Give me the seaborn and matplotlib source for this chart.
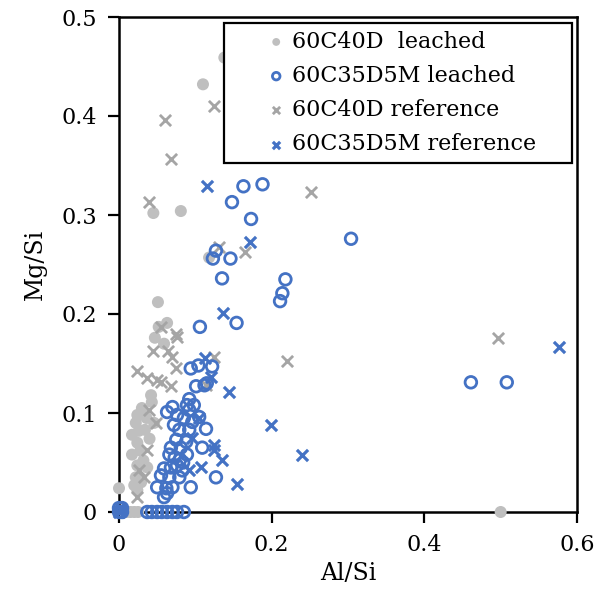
import matplotlib
matplotlib.use("Agg")
import matplotlib.pyplot as plt
import seaborn as sns

# 60C40D leached (filled grey dots)
l40_al = [0.110, 0.138, 0.045, 0.081, 0.118, 0.051, 0.063, 0.052, 0.047, 0.059,
          0.042, 0.043, 0.024, 0.022, 0.046, 0.017, 0.024, 0.017, 0.024, 0.037,
          0.022, 0.020, 0.024, 0.029, 0.000, 0.010, 0.015, 0.020, 0.025, 0.500,
          0.030, 0.034, 0.028, 0.040, 0.032, 0.026, 0.036]
l40_mg = [0.432, 0.459, 0.302, 0.304, 0.257, 0.212, 0.191, 0.187, 0.176, 0.170,
          0.118, 0.111, 0.098, 0.090, 0.090, 0.078, 0.070, 0.058, 0.047, 0.045,
          0.035, 0.027, 0.022, 0.030, 0.024, 0.000, 0.000, 0.000, 0.000, 0.000,
          0.105, 0.083, 0.062, 0.074, 0.052, 0.082, 0.095]

# 60C35D5M leached (open blue circles)
l35_al = [0.163, 0.188, 0.148, 0.173, 0.127, 0.123, 0.146, 0.135, 0.218, 0.304,
          0.214, 0.211, 0.154, 0.106, 0.461, 0.508, 0.094, 0.104, 0.122, 0.101,
          0.112, 0.115, 0.070, 0.063, 0.092, 0.089, 0.098, 0.092, 0.085, 0.096,
          0.105, 0.114, 0.079, 0.092, 0.075, 0.088, 0.068, 0.081, 0.109, 0.089,
          0.059, 0.068, 0.076, 0.083, 0.055, 0.066, 0.079, 0.094, 0.050, 0.062,
          0.070, 0.059, 0.063, 0.127, 0.066, 0.072, 0.076, 0.080, 0.084, 0.073,
          0.037, 0.043, 0.050, 0.056, 0.063, 0.070, 0.076, 0.085,
          0.000, 0.004, 0.000, 0.004]
l35_mg = [0.329, 0.331, 0.313, 0.296, 0.264, 0.256, 0.256, 0.236, 0.235, 0.276,
          0.221, 0.213, 0.191, 0.187, 0.131, 0.131, 0.145, 0.148, 0.147, 0.127,
          0.128, 0.130, 0.106, 0.101, 0.114, 0.108, 0.108, 0.103, 0.095, 0.091,
          0.096, 0.084, 0.083, 0.083, 0.073, 0.071, 0.065, 0.065, 0.065, 0.058,
          0.044, 0.045, 0.047, 0.042, 0.037, 0.035, 0.035, 0.025, 0.025, 0.024,
          0.025, 0.015, 0.019, 0.035, 0.058, 0.088, 0.098, 0.053, 0.050, 0.055,
          0.000, 0.000, 0.000, 0.000, 0.000, 0.000, 0.000, 0.000,
          0.000, 0.000, 0.004, 0.004]

# 60C40D reference (grey crosses)
r40_al = [0.060, 0.068, 0.125, 0.039, 0.131, 0.165, 0.252, 0.220, 0.496, 0.055,
          0.075, 0.076, 0.045, 0.064, 0.070, 0.125, 0.075, 0.024, 0.037, 0.050,
          0.055, 0.068, 0.114, 0.039, 0.049, 0.037, 0.026, 0.033, 0.024]
r40_mg = [0.396, 0.357, 0.410, 0.313, 0.268, 0.263, 0.323, 0.153, 0.176, 0.187,
          0.180, 0.177, 0.163, 0.163, 0.157, 0.157, 0.145, 0.142, 0.135, 0.133,
          0.131, 0.127, 0.128, 0.103, 0.090, 0.063, 0.042, 0.035, 0.015]

# 60C35D5M reference (blue crosses)
r35_al = [0.115, 0.171, 0.577, 0.240, 0.136, 0.144, 0.199, 0.155, 0.113, 0.121,
          0.105, 0.125, 0.135, 0.108, 0.092, 0.096, 0.125, 0.000, 0.003]
r35_mg = [0.329, 0.273, 0.167, 0.058, 0.201, 0.121, 0.088, 0.028, 0.156, 0.136,
          0.095, 0.063, 0.053, 0.045, 0.042, 0.075, 0.068, 0.000, 0.002]

GREY_DOT = "#BFBFBF"
GREY_X = "#A5A5A5"
BLUE = "#4472C4"

sns.set_theme(style="white")
plt.rcParams["font.family"] = ["DejaVu Serif"]

fig = plt.figure(figsize=(6.07, 6.0), dpi=100)
ax = fig.add_axes([119 / 607, 88 / 600, (577 - 119) / 607, (512 - 17) / 600])

sns.scatterplot(x=l40_al, y=l40_mg, ax=ax, marker="o", s=75, color=GREY_DOT,
                edgecolor="none", linewidth=0, label="60C40D  leached",
                clip_on=False, zorder=3)
sns.scatterplot(x=l35_al, y=l35_mg, ax=ax, marker="o", s=70, facecolor="none",
                edgecolor=BLUE, linewidth=2.0, label="60C35D5M leached",
                clip_on=False, zorder=4)
sns.scatterplot(x=r40_al, y=r40_mg, ax=ax, marker="x", s=65, color=GREY_X,
                linewidth=2.0, label="60C40D reference", clip_on=False, zorder=3)
sns.scatterplot(x=r35_al, y=r35_mg, ax=ax, marker="x", s=65, color=BLUE,
                linewidth=2.3, label="60C35D5M reference", clip_on=False, zorder=5)

ax.set_xlim(0, 0.6)
ax.set_ylim(0, 0.5)
ax.set_xticks([0, 0.2, 0.4, 0.6])
ax.set_xticklabels(["0", "0.2", "0.4", "0.6"])
ax.set_yticks([0, 0.1, 0.2, 0.3, 0.4, 0.5])
ax.set_yticklabels(["0", "0.1", "0.2", "0.3", "0.4", "0.5"])
ax.tick_params(axis="both", which="major", direction="out", length=8, width=1.6,
               color="black", labelsize=16, labelcolor="black", pad=8,
               bottom=True, left=True)
for sp in ax.spines.values():
    sp.set_color("black")
    sp.set_linewidth(1.8)

ax.set_xlabel("Al/Si", fontsize=17, color="black", labelpad=4)
ax.set_ylabel("Mg/Si", fontsize=17, color="black", labelpad=10)

leg = ax.legend(loc="upper left",
                bbox_to_anchor=(224 / 607, 1 - 174 / 600, (572 - 224) / 607, (174 - 23) / 600),
                bbox_transform=fig.transFigure, mode="expand",
                fontsize=16, frameon=True, fancybox=False, borderaxespad=0,
                borderpad=0.35, handlelength=4.0, handletextpad=-1.3,
                labelspacing=0.55, markerscale=0.65, scatterpoints=1,
                labelcolor="black")
leg.get_frame().set_edgecolor("black")
leg.get_frame().set_linewidth(1.6)
leg.get_frame().set_alpha(1)
leg.set_zorder(10)

fig.savefig("out.png", dpi=100)
